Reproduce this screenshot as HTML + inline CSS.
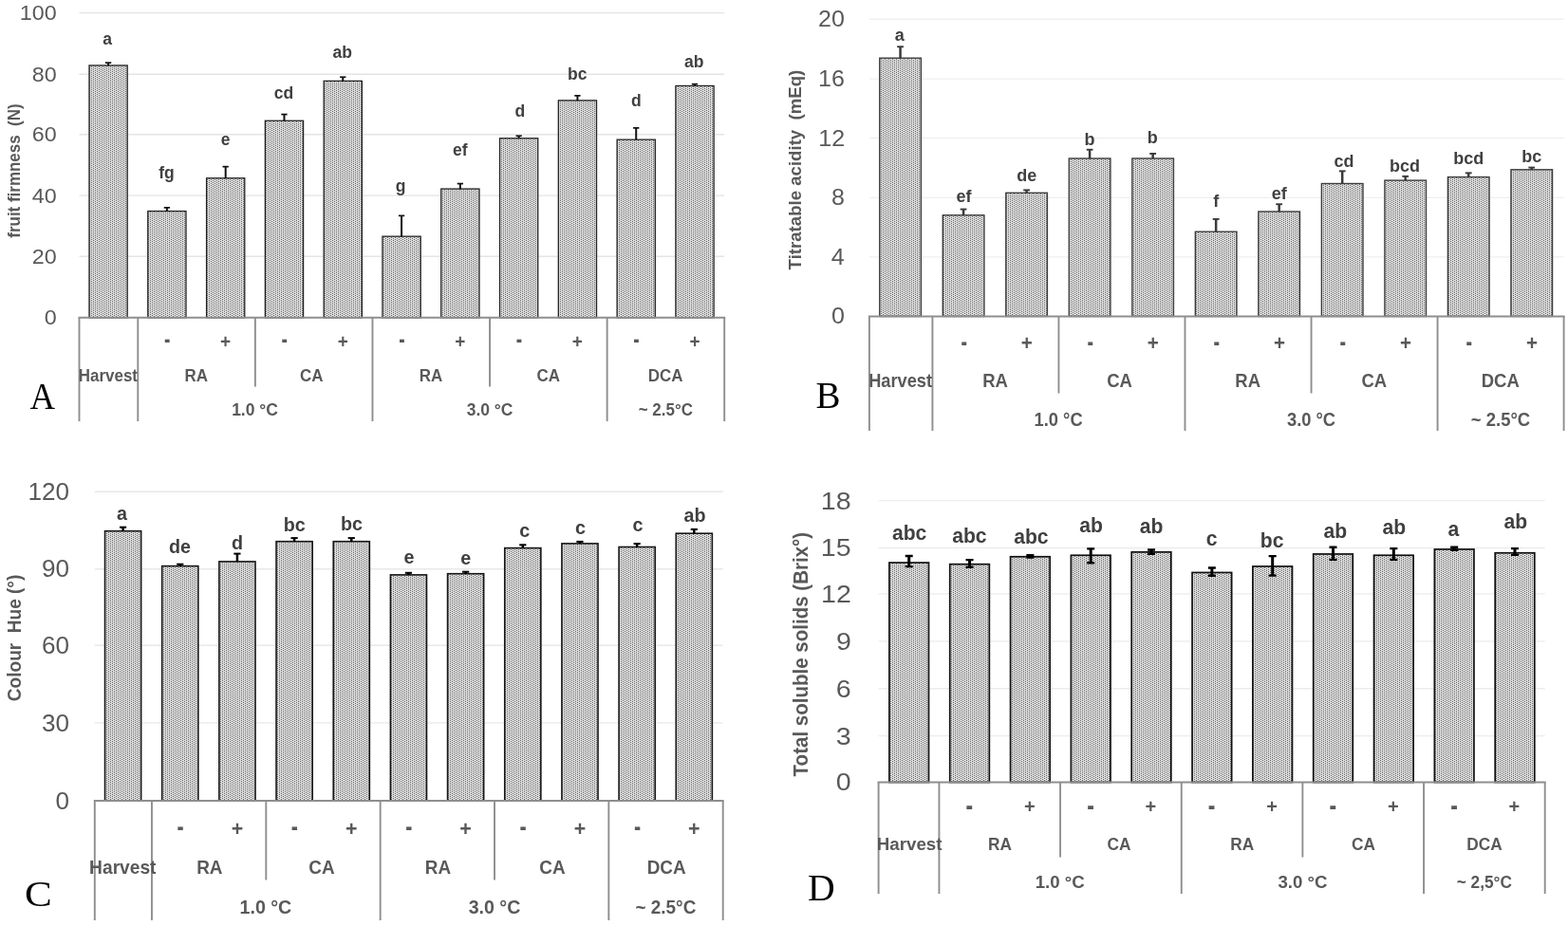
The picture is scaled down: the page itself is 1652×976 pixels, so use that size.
<!DOCTYPE html>
<html><head><meta charset="utf-8"><title>Figure</title>
<style>
html,body{margin:0;padding:0;background:#fff;overflow:hidden;width:1652px;height:976px;}
svg{display:block;}
text{white-space:pre;}
.nS{font-family:"Liberation Sans",sans-serif;font-weight:normal;}
.bS{font-family:"Liberation Sans",sans-serif;font-weight:bold;}
.nR{font-family:"Liberation Serif",serif;font-weight:normal;}
</style></head><body>
<svg width="1652" height="976" viewBox="0 0 1652 976">
<defs>
<pattern id="dotsA" patternUnits="userSpaceOnUse" width="4" height="2" patternTransform="scale(1,1)"><rect width="4" height="2" fill="#dedede"/><rect width="1" height="1" fill="#666"/><rect x="2" y="1" width="1" height="1" fill="#666"/></pattern>
<pattern id="dotsB" patternUnits="userSpaceOnUse" width="4" height="2" patternTransform="scale(1,1)"><rect width="4" height="2" fill="#dedede"/><rect width="1" height="1" fill="#666"/><rect x="2" y="1" width="1" height="1" fill="#666"/></pattern>
<pattern id="dotsC" patternUnits="userSpaceOnUse" width="4" height="2" patternTransform="scale(1,1)"><rect width="4" height="2" fill="#dedede"/><rect width="1" height="1" fill="#666"/><rect x="2" y="1" width="1" height="1" fill="#666"/></pattern>
<pattern id="dotsD" patternUnits="userSpaceOnUse" width="4" height="2" patternTransform="scale(1,1)"><rect width="4" height="2" fill="#dedede"/><rect width="1" height="1" fill="#666"/><rect x="2" y="1" width="1" height="1" fill="#666"/></pattern>
</defs>
<rect width="1652" height="976" fill="#fff"/>
<g id="pA">
<line x1="83.5" x2="763.2" y1="270.20" y2="270.20" stroke="#e4e4e4" stroke-width="1.4"/>
<line x1="83.5" x2="763.2" y1="206.10" y2="206.10" stroke="#e4e4e4" stroke-width="1.4"/>
<line x1="83.5" x2="763.2" y1="141.70" y2="141.70" stroke="#e4e4e4" stroke-width="1.4"/>
<line x1="83.5" x2="763.2" y1="78.20" y2="78.20" stroke="#e4e4e4" stroke-width="1.4"/>
<line x1="83.5" x2="763.2" y1="13.60" y2="13.60" stroke="#e4e4e4" stroke-width="1.4"/>
<text class="nS" transform="translate(46.67,342.39) scale(1.0600,1)" font-size="22" fill="#595959">0</text>
<text class="nS" transform="translate(33.70,277.79) scale(1.0600,1)" font-size="22" fill="#595959">20</text>
<text class="nS" transform="translate(33.70,213.69) scale(1.0600,1)" font-size="22" fill="#595959">40</text>
<text class="nS" transform="translate(33.70,149.29) scale(1.0600,1)" font-size="22" fill="#595959">60</text>
<text class="nS" transform="translate(33.70,85.79) scale(1.0600,1)" font-size="22" fill="#595959">80</text>
<text class="nS" transform="translate(20.73,21.19) scale(1.0600,1)" font-size="22" fill="#595959">100</text>
<rect x="94.00" y="68.95" width="40.20" height="265.85" fill="url(#dotsA)" stroke="#222" stroke-width="1.3"/>
<path d="M114.10,66.15V69.30" stroke="#111" stroke-width="2.0" fill="none"/>
<path d="M110.95,66.15H117.25" stroke="#111" stroke-width="1.7" fill="none"/>
<rect x="155.79" y="222.55" width="40.20" height="112.25" fill="url(#dotsA)" stroke="#222" stroke-width="1.3"/>
<path d="M175.89,218.85V222.90" stroke="#111" stroke-width="2.0" fill="none"/>
<path d="M172.74,218.85H179.04" stroke="#111" stroke-width="1.7" fill="none"/>
<rect x="217.58" y="187.75" width="40.20" height="147.05" fill="url(#dotsA)" stroke="#222" stroke-width="1.3"/>
<path d="M237.68,175.65V188.10" stroke="#111" stroke-width="2.0" fill="none"/>
<path d="M234.53,175.65H240.83" stroke="#111" stroke-width="1.7" fill="none"/>
<rect x="279.37" y="127.25" width="40.20" height="207.55" fill="url(#dotsA)" stroke="#222" stroke-width="1.3"/>
<path d="M299.47,120.55V127.60" stroke="#111" stroke-width="2.0" fill="none"/>
<path d="M296.32,120.55H302.62" stroke="#111" stroke-width="1.7" fill="none"/>
<rect x="341.16" y="85.35" width="40.20" height="249.45" fill="url(#dotsA)" stroke="#222" stroke-width="1.3"/>
<path d="M361.26,81.25V85.70" stroke="#111" stroke-width="2.0" fill="none"/>
<path d="M358.11,81.25H364.41" stroke="#111" stroke-width="1.7" fill="none"/>
<rect x="402.95" y="249.15" width="40.20" height="85.65" fill="url(#dotsA)" stroke="#222" stroke-width="1.3"/>
<path d="M423.05,227.35V249.50" stroke="#111" stroke-width="2.0" fill="none"/>
<path d="M419.90,227.35H426.20" stroke="#111" stroke-width="1.7" fill="none"/>
<rect x="464.74" y="199.05" width="40.20" height="135.75" fill="url(#dotsA)" stroke="#222" stroke-width="1.3"/>
<path d="M484.84,193.55V199.40" stroke="#111" stroke-width="2.0" fill="none"/>
<path d="M481.69,193.55H487.99" stroke="#111" stroke-width="1.7" fill="none"/>
<rect x="526.53" y="145.75" width="40.20" height="189.05" fill="url(#dotsA)" stroke="#222" stroke-width="1.3"/>
<path d="M546.63,143.25V146.10" stroke="#111" stroke-width="2.0" fill="none"/>
<path d="M543.48,143.25H549.78" stroke="#111" stroke-width="1.7" fill="none"/>
<rect x="588.32" y="105.85" width="40.20" height="228.95" fill="url(#dotsA)" stroke="#222" stroke-width="1.3"/>
<path d="M608.42,100.85V106.20" stroke="#111" stroke-width="2.0" fill="none"/>
<path d="M605.27,100.85H611.57" stroke="#111" stroke-width="1.7" fill="none"/>
<rect x="650.11" y="147.15" width="40.20" height="187.65" fill="url(#dotsA)" stroke="#222" stroke-width="1.3"/>
<path d="M670.21,134.85V147.50" stroke="#111" stroke-width="2.0" fill="none"/>
<path d="M667.06,134.85H673.36" stroke="#111" stroke-width="1.7" fill="none"/>
<rect x="711.90" y="90.45" width="40.20" height="244.35" fill="url(#dotsA)" stroke="#222" stroke-width="1.3"/>
<path d="M732.00,88.65V90.80" stroke="#111" stroke-width="2.0" fill="none"/>
<path d="M728.85,88.65H735.15" stroke="#111" stroke-width="1.7" fill="none"/>
<text class="bS" transform="translate(108.24,46.90) scale(1.0000,1)" font-size="17.5" fill="#404040">a</text>
<text class="bS" transform="translate(167.19,187.80) scale(1.0000,1)" font-size="17.5" fill="#404040">fg</text>
<text class="bS" transform="translate(232.80,152.90) scale(1.0000,1)" font-size="17.5" fill="#404040">e</text>
<text class="bS" transform="translate(288.76,104.10) scale(1.0000,1)" font-size="17.5" fill="#404040">cd</text>
<text class="bS" transform="translate(350.47,61.10) scale(1.0000,1)" font-size="17.5" fill="#404040">ab</text>
<text class="bS" transform="translate(416.64,202.20) scale(1.0000,1)" font-size="17.5" fill="#404040">g</text>
<text class="bS" transform="translate(476.90,164.30) scale(1.0000,1)" font-size="17.5" fill="#404040">ef</text>
<text class="bS" transform="translate(542.54,122.60) scale(1.0000,1)" font-size="17.5" fill="#404040">d</text>
<text class="bS" transform="translate(598.09,83.80) scale(1.0000,1)" font-size="17.5" fill="#404040">bc</text>
<text class="bS" transform="translate(664.94,112.00) scale(1.0000,1)" font-size="17.5" fill="#404040">d</text>
<text class="bS" transform="translate(720.97,70.70) scale(1.0000,1)" font-size="17.5" fill="#404040">ab</text>
<line x1="82.5" x2="764.2" y1="334.80" y2="334.80" stroke="#8e8e8e" stroke-width="2"/>
<line x1="83.50" x2="83.50" y1="334.80" y2="444.00" stroke="#8e8e8e" stroke-width="1.9"/>
<line x1="145.29" x2="145.29" y1="334.80" y2="444.00" stroke="#8e8e8e" stroke-width="1.9"/>
<line x1="392.45" x2="392.45" y1="334.80" y2="444.00" stroke="#8e8e8e" stroke-width="1.9"/>
<line x1="639.62" x2="639.62" y1="334.80" y2="444.00" stroke="#8e8e8e" stroke-width="1.9"/>
<line x1="763.20" x2="763.20" y1="334.80" y2="444.00" stroke="#8e8e8e" stroke-width="1.9"/>
<line x1="268.87" x2="268.87" y1="334.80" y2="407.60" stroke="#8e8e8e" stroke-width="1.9"/>
<line x1="516.04" x2="516.04" y1="334.80" y2="407.60" stroke="#8e8e8e" stroke-width="1.9"/>
<text class="bS" transform="translate(173.01,367.37) scale(1.1005,1.6190)" font-size="17.5" fill="#595959">-</text>
<text class="bS" transform="translate(232.07,367.02) scale(1.0868,1.1541)" font-size="17.5" fill="#595959">+</text>
<text class="bS" transform="translate(296.59,367.37) scale(1.1005,1.6190)" font-size="17.5" fill="#595959">-</text>
<text class="bS" transform="translate(355.65,367.02) scale(1.0868,1.1541)" font-size="17.5" fill="#595959">+</text>
<text class="bS" transform="translate(420.17,367.37) scale(1.1005,1.6190)" font-size="17.5" fill="#595959">-</text>
<text class="bS" transform="translate(479.23,367.02) scale(1.0868,1.1541)" font-size="17.5" fill="#595959">+</text>
<text class="bS" transform="translate(543.75,367.37) scale(1.1005,1.6190)" font-size="17.5" fill="#595959">-</text>
<text class="bS" transform="translate(602.81,367.02) scale(1.0868,1.1541)" font-size="17.5" fill="#595959">+</text>
<text class="bS" transform="translate(667.34,367.37) scale(1.1005,1.6190)" font-size="17.5" fill="#595959">-</text>
<text class="bS" transform="translate(726.39,367.02) scale(1.0868,1.1541)" font-size="17.5" fill="#595959">+</text>
<text class="bS" transform="translate(82.77,402.10) scale(0.9700,1)" font-size="17.5" fill="#595959">Harvest</text>
<text class="bS" transform="translate(194.50,402.10) scale(0.9700,1)" font-size="17.5" fill="#595959">RA</text>
<text class="bS" transform="translate(315.95,402.10) scale(0.9700,1)" font-size="17.5" fill="#595959">CA</text>
<text class="bS" transform="translate(441.67,402.10) scale(0.9700,1)" font-size="17.5" fill="#595959">RA</text>
<text class="bS" transform="translate(565.42,402.10) scale(0.9700,1)" font-size="17.5" fill="#595959">CA</text>
<text class="bS" transform="translate(682.70,402.10) scale(0.9700,1)" font-size="17.5" fill="#595959">DCA</text>
<text class="bS" transform="translate(244.15,437.80) scale(0.9991,1)" font-size="17.5" fill="#595959">1.0 °C</text>
<text class="bS" transform="translate(491.66,437.80) scale(0.9991,1)" font-size="17.5" fill="#595959">3.0 °C</text>
<text class="bS" transform="translate(672.71,437.80) scale(0.9700,1)" font-size="17.5" fill="#595959">~ 2.5°C</text>
<text class="bS" transform="translate(21.30,250.67) rotate(-90) scale(0.8917,1)" font-size="19" fill="#595959">fruit firmness  (N)</text>
<text class="nR" transform="translate(31.50,430.70) scale(0.9099,1)" font-size="40.45" fill="#000">A</text>
</g>
<g id="pB">
<line x1="915.9" x2="1647.6" y1="270.85" y2="270.85" stroke="#efefef" stroke-width="1.4"/>
<line x1="915.9" x2="1647.6" y1="208.40" y2="208.40" stroke="#efefef" stroke-width="1.4"/>
<line x1="915.9" x2="1647.6" y1="145.45" y2="145.45" stroke="#efefef" stroke-width="1.4"/>
<line x1="915.9" x2="1647.6" y1="83.10" y2="83.10" stroke="#efefef" stroke-width="1.4"/>
<line x1="915.9" x2="1647.6" y1="20.20" y2="20.20" stroke="#efefef" stroke-width="1.4"/>
<text class="nS" transform="translate(875.96,341.33) scale(1.0900,1)" font-size="23" fill="#595959">0</text>
<text class="nS" transform="translate(875.71,278.90) scale(1.0900,1)" font-size="23" fill="#595959">4</text>
<text class="nS" transform="translate(875.96,216.34) scale(1.0900,1)" font-size="23" fill="#595959">8</text>
<text class="nS" transform="translate(862.27,153.50) scale(1.0900,1)" font-size="23" fill="#595959">12</text>
<text class="nS" transform="translate(862.02,91.03) scale(1.0900,1)" font-size="23" fill="#595959">16</text>
<text class="nS" transform="translate(862.02,28.13) scale(1.0900,1)" font-size="23" fill="#595959">20</text>
<rect x="926.76" y="61.20" width="43.60" height="272.20" fill="url(#dotsB)" stroke="#3c3c3c" stroke-width="1.4"/>
<path d="M948.56,49.25V61.50" stroke="#3a3a3a" stroke-width="2.5" fill="none"/>
<path d="M945.16,49.25H951.96" stroke="#3a3a3a" stroke-width="1.9" fill="none"/>
<rect x="993.28" y="226.80" width="43.60" height="106.60" fill="url(#dotsB)" stroke="#3c3c3c" stroke-width="1.4"/>
<path d="M1015.08,220.55V227.10" stroke="#3a3a3a" stroke-width="2.5" fill="none"/>
<path d="M1011.68,220.55H1018.48" stroke="#3a3a3a" stroke-width="1.9" fill="none"/>
<rect x="1059.80" y="203.30" width="43.60" height="130.10" fill="url(#dotsB)" stroke="#3c3c3c" stroke-width="1.4"/>
<path d="M1081.60,200.35V203.60" stroke="#3a3a3a" stroke-width="2.5" fill="none"/>
<path d="M1078.20,200.35H1085.00" stroke="#3a3a3a" stroke-width="1.9" fill="none"/>
<rect x="1126.31" y="167.00" width="43.60" height="166.40" fill="url(#dotsB)" stroke="#3c3c3c" stroke-width="1.4"/>
<path d="M1148.11,157.75V167.30" stroke="#3a3a3a" stroke-width="2.5" fill="none"/>
<path d="M1144.71,157.75H1151.51" stroke="#3a3a3a" stroke-width="1.9" fill="none"/>
<rect x="1192.83" y="167.00" width="43.60" height="166.40" fill="url(#dotsB)" stroke="#3c3c3c" stroke-width="1.4"/>
<path d="M1214.63,161.95V167.30" stroke="#3a3a3a" stroke-width="2.5" fill="none"/>
<path d="M1211.23,161.95H1218.03" stroke="#3a3a3a" stroke-width="1.9" fill="none"/>
<rect x="1259.35" y="244.20" width="43.60" height="89.20" fill="url(#dotsB)" stroke="#3c3c3c" stroke-width="1.4"/>
<path d="M1281.15,230.95V244.50" stroke="#3a3a3a" stroke-width="2.5" fill="none"/>
<path d="M1277.75,230.95H1284.55" stroke="#3a3a3a" stroke-width="1.9" fill="none"/>
<rect x="1325.87" y="223.00" width="43.60" height="110.40" fill="url(#dotsB)" stroke="#3c3c3c" stroke-width="1.4"/>
<path d="M1347.67,215.25V223.30" stroke="#3a3a3a" stroke-width="2.5" fill="none"/>
<path d="M1344.27,215.25H1351.07" stroke="#3a3a3a" stroke-width="1.9" fill="none"/>
<rect x="1392.39" y="193.50" width="43.60" height="139.90" fill="url(#dotsB)" stroke="#3c3c3c" stroke-width="1.4"/>
<path d="M1414.19,180.35V193.80" stroke="#3a3a3a" stroke-width="2.5" fill="none"/>
<path d="M1410.79,180.35H1417.59" stroke="#3a3a3a" stroke-width="1.9" fill="none"/>
<rect x="1458.90" y="190.10" width="43.60" height="143.30" fill="url(#dotsB)" stroke="#3c3c3c" stroke-width="1.4"/>
<path d="M1480.70,185.85V190.40" stroke="#3a3a3a" stroke-width="2.5" fill="none"/>
<path d="M1477.30,185.85H1484.10" stroke="#3a3a3a" stroke-width="1.9" fill="none"/>
<rect x="1525.42" y="186.60" width="43.60" height="146.80" fill="url(#dotsB)" stroke="#3c3c3c" stroke-width="1.4"/>
<path d="M1547.22,182.35V186.90" stroke="#3a3a3a" stroke-width="2.5" fill="none"/>
<path d="M1543.82,182.35H1550.62" stroke="#3a3a3a" stroke-width="1.9" fill="none"/>
<rect x="1591.94" y="178.80" width="43.60" height="154.60" fill="url(#dotsB)" stroke="#3c3c3c" stroke-width="1.4"/>
<path d="M1613.74,176.55V179.10" stroke="#3a3a3a" stroke-width="2.5" fill="none"/>
<path d="M1610.34,176.55H1617.14" stroke="#3a3a3a" stroke-width="1.9" fill="none"/>
<text class="bS" transform="translate(942.69,43.00) scale(1.0000,1)" font-size="18" fill="#404040">a</text>
<text class="bS" transform="translate(1007.46,212.80) scale(1.0000,1)" font-size="18" fill="#404040">ef</text>
<text class="bS" transform="translate(1071.37,191.40) scale(1.0000,1)" font-size="18" fill="#404040">de</text>
<text class="bS" transform="translate(1142.43,152.70) scale(1.0000,1)" font-size="18" fill="#404040">b</text>
<text class="bS" transform="translate(1208.63,151.10) scale(1.0000,1)" font-size="18" fill="#404040">b</text>
<text class="bS" transform="translate(1278.25,217.80) scale(1.0000,1)" font-size="18" fill="#404040">f</text>
<text class="bS" transform="translate(1339.66,209.80) scale(1.0000,1)" font-size="18" fill="#404040">ef</text>
<text class="bS" transform="translate(1405.57,176.10) scale(1.0000,1)" font-size="18" fill="#404040">cd</text>
<text class="bS" transform="translate(1464.11,180.60) scale(1.0000,1)" font-size="18" fill="#404040">bcd</text>
<text class="bS" transform="translate(1531.21,172.90) scale(1.0000,1)" font-size="18" fill="#404040">bcd</text>
<text class="bS" transform="translate(1603.19,171.10) scale(1.0000,1)" font-size="18" fill="#404040">bc</text>
<line x1="914.9" x2="1648.6" y1="333.40" y2="333.40" stroke="#8e8e8e" stroke-width="2"/>
<line x1="915.90" x2="915.90" y1="333.40" y2="454.00" stroke="#8e8e8e" stroke-width="1.9"/>
<line x1="982.42" x2="982.42" y1="333.40" y2="454.00" stroke="#8e8e8e" stroke-width="1.9"/>
<line x1="1248.49" x2="1248.49" y1="333.40" y2="454.00" stroke="#8e8e8e" stroke-width="1.9"/>
<line x1="1514.56" x2="1514.56" y1="333.40" y2="454.00" stroke="#8e8e8e" stroke-width="1.9"/>
<line x1="1647.60" x2="1647.60" y1="333.40" y2="454.00" stroke="#8e8e8e" stroke-width="1.9"/>
<line x1="1115.45" x2="1115.45" y1="333.40" y2="414.50" stroke="#8e8e8e" stroke-width="1.9"/>
<line x1="1381.53" x2="1381.53" y1="333.40" y2="414.50" stroke="#8e8e8e" stroke-width="1.9"/>
<text class="bS" transform="translate(1012.44,369.60) scale(1.0066,1.5385)" font-size="19.5" fill="#595959">-</text>
<text class="bS" transform="translate(1075.82,369.49) scale(1.0558,1.1463)" font-size="19.5" fill="#595959">+</text>
<text class="bS" transform="translate(1145.47,369.60) scale(1.0066,1.5385)" font-size="19.5" fill="#595959">-</text>
<text class="bS" transform="translate(1208.86,369.49) scale(1.0558,1.1463)" font-size="19.5" fill="#595959">+</text>
<text class="bS" transform="translate(1278.51,369.60) scale(1.0066,1.5385)" font-size="19.5" fill="#595959">-</text>
<text class="bS" transform="translate(1341.89,369.49) scale(1.0558,1.1463)" font-size="19.5" fill="#595959">+</text>
<text class="bS" transform="translate(1411.55,369.60) scale(1.0066,1.5385)" font-size="19.5" fill="#595959">-</text>
<text class="bS" transform="translate(1474.93,369.49) scale(1.0558,1.1463)" font-size="19.5" fill="#595959">+</text>
<text class="bS" transform="translate(1544.58,369.60) scale(1.0066,1.5385)" font-size="19.5" fill="#595959">-</text>
<text class="bS" transform="translate(1607.97,369.49) scale(1.0558,1.1463)" font-size="19.5" fill="#595959">+</text>
<text class="bS" transform="translate(915.19,408.40) scale(0.9350,1)" font-size="19.5" fill="#595959">Harvest</text>
<text class="bS" transform="translate(1035.21,408.40) scale(0.9500,1)" font-size="19.5" fill="#595959">RA</text>
<text class="bS" transform="translate(1166.13,408.40) scale(0.9500,1)" font-size="19.5" fill="#595959">CA</text>
<text class="bS" transform="translate(1301.28,408.40) scale(0.9500,1)" font-size="19.5" fill="#595959">RA</text>
<text class="bS" transform="translate(1434.50,408.40) scale(0.9500,1)" font-size="19.5" fill="#595959">CA</text>
<text class="bS" transform="translate(1560.66,408.40) scale(0.9500,1)" font-size="19.5" fill="#595959">DCA</text>
<text class="bS" transform="translate(1089.52,449.10) scale(0.9405,1)" font-size="19.5" fill="#595959">1.0 °C</text>
<text class="bS" transform="translate(1355.96,449.10) scale(0.9405,1)" font-size="19.5" fill="#595959">3.0 °C</text>
<text class="bS" transform="translate(1549.76,449.10) scale(0.9500,1)" font-size="19.5" fill="#595959">~ 2.5°C</text>
<text class="bS" transform="translate(844.10,284.39) rotate(-90) scale(0.9807,1)" font-size="19" fill="#595959">Titratable acidity  (mEq)</text>
<text class="nR" transform="translate(859.42,429.81) scale(0.9901,1)" font-size="39.39" fill="#000">B</text>
</g>
<g id="pC">
<line x1="99.8" x2="761.7" y1="761.90" y2="761.90" stroke="#e8e8e8" stroke-width="1.4"/>
<line x1="99.8" x2="761.7" y1="680.20" y2="680.20" stroke="#e8e8e8" stroke-width="1.4"/>
<line x1="99.8" x2="761.7" y1="599.70" y2="599.70" stroke="#e8e8e8" stroke-width="1.4"/>
<line x1="99.8" x2="761.7" y1="518.20" y2="518.20" stroke="#e8e8e8" stroke-width="1.4"/>
<text class="nS" transform="translate(58.62,852.62) scale(1.0450,1)" font-size="25" fill="#595959">0</text>
<text class="nS" transform="translate(44.09,770.52) scale(1.0450,1)" font-size="25" fill="#595959">30</text>
<text class="nS" transform="translate(44.09,688.83) scale(1.0450,1)" font-size="25" fill="#595959">60</text>
<text class="nS" transform="translate(44.09,608.33) scale(1.0450,1)" font-size="25" fill="#595959">90</text>
<text class="nS" transform="translate(29.56,526.83) scale(1.0450,1)" font-size="25" fill="#595959">120</text>
<rect x="110.54" y="559.70" width="38.10" height="284.30" fill="url(#dotsC)" stroke="#161616" stroke-width="1.6"/>
<path d="M129.59,555.70V559.90" stroke="#000" stroke-width="2.5" fill="none"/>
<path d="M125.99,555.70H133.19" stroke="#000" stroke-width="2.0" fill="none"/>
<rect x="170.71" y="596.60" width="38.10" height="247.40" fill="url(#dotsC)" stroke="#161616" stroke-width="1.6"/>
<path d="M189.76,594.70V596.80" stroke="#000" stroke-width="2.5" fill="none"/>
<path d="M186.16,594.70H193.36" stroke="#000" stroke-width="2.0" fill="none"/>
<rect x="230.88" y="591.90" width="38.10" height="252.10" fill="url(#dotsC)" stroke="#161616" stroke-width="1.6"/>
<path d="M249.93,583.60V592.10" stroke="#000" stroke-width="2.5" fill="none"/>
<path d="M246.33,583.60H253.53" stroke="#000" stroke-width="2.0" fill="none"/>
<rect x="291.05" y="570.70" width="38.10" height="273.30" fill="url(#dotsC)" stroke="#161616" stroke-width="1.6"/>
<path d="M310.10,567.10V570.90" stroke="#000" stroke-width="2.5" fill="none"/>
<path d="M306.50,567.10H313.70" stroke="#000" stroke-width="2.0" fill="none"/>
<rect x="351.23" y="570.70" width="38.10" height="273.30" fill="url(#dotsC)" stroke="#161616" stroke-width="1.6"/>
<path d="M370.28,567.10V570.90" stroke="#000" stroke-width="2.5" fill="none"/>
<path d="M366.68,567.10H373.88" stroke="#000" stroke-width="2.0" fill="none"/>
<rect x="411.40" y="605.90" width="38.10" height="238.10" fill="url(#dotsC)" stroke="#161616" stroke-width="1.6"/>
<path d="M430.45,603.80V606.10" stroke="#000" stroke-width="2.5" fill="none"/>
<path d="M426.85,603.80H434.05" stroke="#000" stroke-width="2.0" fill="none"/>
<rect x="471.57" y="604.70" width="38.10" height="239.30" fill="url(#dotsC)" stroke="#161616" stroke-width="1.6"/>
<path d="M490.62,602.70V604.90" stroke="#000" stroke-width="2.5" fill="none"/>
<path d="M487.02,602.70H494.22" stroke="#000" stroke-width="2.0" fill="none"/>
<rect x="531.75" y="577.60" width="38.10" height="266.40" fill="url(#dotsC)" stroke="#161616" stroke-width="1.6"/>
<path d="M550.80,574.30V577.80" stroke="#000" stroke-width="2.5" fill="none"/>
<path d="M547.20,574.30H554.40" stroke="#000" stroke-width="2.0" fill="none"/>
<rect x="591.92" y="572.90" width="38.10" height="271.10" fill="url(#dotsC)" stroke="#161616" stroke-width="1.6"/>
<path d="M610.97,570.90V573.10" stroke="#000" stroke-width="2.5" fill="none"/>
<path d="M607.37,570.90H614.57" stroke="#000" stroke-width="2.0" fill="none"/>
<rect x="652.09" y="576.50" width="38.10" height="267.50" fill="url(#dotsC)" stroke="#161616" stroke-width="1.6"/>
<path d="M671.14,573.10V576.70" stroke="#000" stroke-width="2.5" fill="none"/>
<path d="M667.54,573.10H674.74" stroke="#000" stroke-width="2.0" fill="none"/>
<rect x="712.26" y="562.20" width="38.10" height="281.80" fill="url(#dotsC)" stroke="#161616" stroke-width="1.6"/>
<path d="M731.31,557.90V562.40" stroke="#000" stroke-width="2.5" fill="none"/>
<path d="M727.71,557.90H734.91" stroke="#000" stroke-width="2.0" fill="none"/>
<text class="bS" transform="translate(123.09,548.00) scale(1.0000,1)" font-size="19.7" fill="#404040">a</text>
<text class="bS" transform="translate(178.07,582.50) scale(1.0000,1)" font-size="19.7" fill="#404040">de</text>
<text class="bS" transform="translate(244.09,578.90) scale(1.0000,1)" font-size="19.7" fill="#404040">d</text>
<text class="bS" transform="translate(298.67,559.80) scale(1.0000,1)" font-size="19.7" fill="#404040">bc</text>
<text class="bS" transform="translate(358.97,559.20) scale(1.0000,1)" font-size="19.7" fill="#404040">bc</text>
<text class="bS" transform="translate(425.38,594.00) scale(1.0000,1)" font-size="19.7" fill="#404040">e</text>
<text class="bS" transform="translate(485.18,595.00) scale(1.0000,1)" font-size="19.7" fill="#404040">e</text>
<text class="bS" transform="translate(547.18,565.90) scale(1.0000,1)" font-size="19.7" fill="#404040">c</text>
<text class="bS" transform="translate(606.08,562.60) scale(1.0000,1)" font-size="19.7" fill="#404040">c</text>
<text class="bS" transform="translate(666.58,560.30) scale(1.0000,1)" font-size="19.7" fill="#404040">c</text>
<text class="bS" transform="translate(720.61,550.20) scale(1.0000,1)" font-size="19.7" fill="#404040">ab</text>
<line x1="98.8" x2="762.7" y1="844.00" y2="844.00" stroke="#8e8e8e" stroke-width="2"/>
<line x1="99.80" x2="99.80" y1="844.00" y2="970.00" stroke="#8e8e8e" stroke-width="1.9"/>
<line x1="159.97" x2="159.97" y1="844.00" y2="970.00" stroke="#8e8e8e" stroke-width="1.9"/>
<line x1="400.66" x2="400.66" y1="844.00" y2="970.00" stroke="#8e8e8e" stroke-width="1.9"/>
<line x1="641.35" x2="641.35" y1="844.00" y2="970.00" stroke="#8e8e8e" stroke-width="1.9"/>
<line x1="761.70" x2="761.70" y1="844.00" y2="970.00" stroke="#8e8e8e" stroke-width="1.9"/>
<line x1="280.32" x2="280.32" y1="844.00" y2="927.50" stroke="#8e8e8e" stroke-width="1.9"/>
<line x1="521.01" x2="521.01" y1="844.00" y2="927.50" stroke="#8e8e8e" stroke-width="1.9"/>
<text class="bS" transform="translate(186.51,881.20) scale(1.0904,1.5228)" font-size="19.7" fill="#595959">-</text>
<text class="bS" transform="translate(243.63,881.34) scale(1.0849,1.1645)" font-size="19.7" fill="#595959">+</text>
<text class="bS" transform="translate(306.86,881.20) scale(1.0904,1.5228)" font-size="19.7" fill="#595959">-</text>
<text class="bS" transform="translate(363.97,881.34) scale(1.0849,1.1645)" font-size="19.7" fill="#595959">+</text>
<text class="bS" transform="translate(427.21,881.20) scale(1.0904,1.5228)" font-size="19.7" fill="#595959">-</text>
<text class="bS" transform="translate(484.32,881.34) scale(1.0849,1.1645)" font-size="19.7" fill="#595959">+</text>
<text class="bS" transform="translate(547.55,881.20) scale(1.0904,1.5228)" font-size="19.7" fill="#595959">-</text>
<text class="bS" transform="translate(604.66,881.34) scale(1.0849,1.1645)" font-size="19.7" fill="#595959">+</text>
<text class="bS" transform="translate(667.90,881.20) scale(1.0904,1.5228)" font-size="19.7" fill="#595959">-</text>
<text class="bS" transform="translate(725.01,881.34) scale(1.0849,1.1645)" font-size="19.7" fill="#595959">+</text>
<text class="bS" transform="translate(94.10,920.60) scale(0.9750,1)" font-size="19.7" fill="#595959">Harvest</text>
<text class="bS" transform="translate(207.13,920.60) scale(0.9600,1)" font-size="19.7" fill="#595959">RA</text>
<text class="bS" transform="translate(325.36,920.60) scale(0.9600,1)" font-size="19.7" fill="#595959">CA</text>
<text class="bS" transform="translate(447.82,920.60) scale(0.9600,1)" font-size="19.7" fill="#595959">RA</text>
<text class="bS" transform="translate(568.36,920.60) scale(0.9600,1)" font-size="19.7" fill="#595959">CA</text>
<text class="bS" transform="translate(681.68,920.60) scale(0.9600,1)" font-size="19.7" fill="#595959">DCA</text>
<text class="bS" transform="translate(252.59,963.10) scale(0.9955,1)" font-size="19.7" fill="#595959">1.0 °C</text>
<text class="bS" transform="translate(493.67,963.10) scale(0.9955,1)" font-size="19.7" fill="#595959">3.0 °C</text>
<text class="bS" transform="translate(669.55,963.10) scale(0.9600,1)" font-size="19.7" fill="#595959">~ 2.5°C</text>
<text class="bS" transform="translate(22.00,739.16) rotate(-90) scale(0.9528,1)" font-size="20" fill="#595959">Colour  Hue (°)</text>
<text class="nR" transform="translate(26.08,954.93) scale(1.1187,1)" font-size="38.53" fill="#000">C</text>
</g>
<g id="pD">
<line x1="925.6" x2="1627.7" y1="775.60" y2="775.60" stroke="#ececec" stroke-width="1.4"/>
<line x1="925.6" x2="1627.7" y1="725.80" y2="725.80" stroke="#ececec" stroke-width="1.4"/>
<line x1="925.6" x2="1627.7" y1="675.90" y2="675.90" stroke="#ececec" stroke-width="1.4"/>
<line x1="925.6" x2="1627.7" y1="625.90" y2="625.90" stroke="#ececec" stroke-width="1.4"/>
<line x1="925.6" x2="1627.7" y1="577.45" y2="577.45" stroke="#ececec" stroke-width="1.4"/>
<line x1="925.6" x2="1627.7" y1="527.60" y2="527.60" stroke="#ececec" stroke-width="1.4"/>
<text class="nS" transform="translate(880.73,833.47) scale(1.1000,1)" font-size="26" fill="#595959">0</text>
<text class="nS" transform="translate(880.73,784.57) scale(1.1000,1)" font-size="26" fill="#595959">3</text>
<text class="nS" transform="translate(880.73,734.77) scale(1.1000,1)" font-size="26" fill="#595959">6</text>
<text class="nS" transform="translate(881.01,684.87) scale(1.1000,1)" font-size="26" fill="#595959">9</text>
<text class="nS" transform="translate(865.11,635.00) scale(1.1000,1)" font-size="26" fill="#595959">12</text>
<text class="nS" transform="translate(864.82,586.29) scale(1.1000,1)" font-size="26" fill="#595959">15</text>
<text class="nS" transform="translate(864.82,536.57) scale(1.1000,1)" font-size="26" fill="#595959">18</text>
<rect x="936.91" y="593.05" width="41.60" height="231.45" fill="url(#dotsD)" stroke="#111" stroke-width="1.7"/>
<path d="M957.71,586.00V597.10" stroke="#000" stroke-width="3.0" fill="none"/>
<path d="M953.71,586.00H961.71M953.71,597.10H961.71" stroke="#000" stroke-width="2.4" fill="none"/>
<rect x="1000.74" y="594.65" width="41.60" height="229.85" fill="url(#dotsD)" stroke="#111" stroke-width="1.7"/>
<path d="M1021.54,590.10V597.80" stroke="#000" stroke-width="3.0" fill="none"/>
<path d="M1017.54,590.10H1025.54M1017.54,597.80H1025.54" stroke="#000" stroke-width="2.4" fill="none"/>
<rect x="1064.57" y="586.75" width="41.60" height="237.75" fill="url(#dotsD)" stroke="#111" stroke-width="1.7"/>
<path d="M1085.37,585.10V587.50" stroke="#000" stroke-width="3.0" fill="none"/>
<path d="M1081.37,585.10H1089.37M1081.37,587.50H1089.37" stroke="#000" stroke-width="2.4" fill="none"/>
<rect x="1128.40" y="585.25" width="41.60" height="239.25" fill="url(#dotsD)" stroke="#111" stroke-width="1.7"/>
<path d="M1149.20,578.40V593.30" stroke="#000" stroke-width="3.0" fill="none"/>
<path d="M1145.20,578.40H1153.20M1145.20,593.30H1153.20" stroke="#000" stroke-width="2.4" fill="none"/>
<rect x="1192.22" y="581.85" width="41.60" height="242.65" fill="url(#dotsD)" stroke="#111" stroke-width="1.7"/>
<path d="M1213.02,579.50V583.70" stroke="#000" stroke-width="3.0" fill="none"/>
<path d="M1209.02,579.50H1217.02M1209.02,583.70H1217.02" stroke="#000" stroke-width="2.4" fill="none"/>
<rect x="1256.05" y="603.45" width="41.60" height="221.05" fill="url(#dotsD)" stroke="#111" stroke-width="1.7"/>
<path d="M1276.85,598.50V606.80" stroke="#000" stroke-width="3.0" fill="none"/>
<path d="M1272.85,598.50H1280.85M1272.85,606.80H1280.85" stroke="#000" stroke-width="2.4" fill="none"/>
<rect x="1319.88" y="596.95" width="41.60" height="227.55" fill="url(#dotsD)" stroke="#111" stroke-width="1.7"/>
<path d="M1340.68,586.10V606.60" stroke="#000" stroke-width="3.0" fill="none"/>
<path d="M1336.68,586.10H1344.68M1336.68,606.60H1344.68" stroke="#000" stroke-width="2.4" fill="none"/>
<rect x="1383.70" y="583.95" width="41.60" height="240.55" fill="url(#dotsD)" stroke="#111" stroke-width="1.7"/>
<path d="M1404.50,576.80V589.90" stroke="#000" stroke-width="3.0" fill="none"/>
<path d="M1400.50,576.80H1408.50M1400.50,589.90H1408.50" stroke="#000" stroke-width="2.4" fill="none"/>
<rect x="1447.53" y="585.25" width="41.60" height="239.25" fill="url(#dotsD)" stroke="#111" stroke-width="1.7"/>
<path d="M1468.33,578.10V589.90" stroke="#000" stroke-width="3.0" fill="none"/>
<path d="M1464.33,578.10H1472.33M1464.33,589.90H1472.33" stroke="#000" stroke-width="2.4" fill="none"/>
<rect x="1511.36" y="578.95" width="41.60" height="245.55" fill="url(#dotsD)" stroke="#111" stroke-width="1.7"/>
<path d="M1532.16,576.80V579.90" stroke="#000" stroke-width="3.0" fill="none"/>
<path d="M1528.16,576.80H1536.16M1528.16,579.90H1536.16" stroke="#000" stroke-width="2.4" fill="none"/>
<rect x="1575.19" y="582.75" width="41.60" height="241.75" fill="url(#dotsD)" stroke="#111" stroke-width="1.7"/>
<path d="M1595.99,578.10V584.90" stroke="#000" stroke-width="3.0" fill="none"/>
<path d="M1591.99,578.10H1599.99M1591.99,584.90H1599.99" stroke="#000" stroke-width="2.4" fill="none"/>
<text class="bS" transform="translate(939.98,569.20) scale(0.9300,1)" font-size="22.7" fill="#404040">abc</text>
<text class="bS" transform="translate(1003.18,571.90) scale(0.9300,1)" font-size="22.7" fill="#404040">abc</text>
<text class="bS" transform="translate(1068.18,573.00) scale(0.9300,1)" font-size="22.7" fill="#404040">abc</text>
<text class="bS" transform="translate(1137.30,560.90) scale(0.9300,1)" font-size="22.7" fill="#404040">ab</text>
<text class="bS" transform="translate(1200.70,562.00) scale(0.9300,1)" font-size="22.7" fill="#404040">ab</text>
<text class="bS" transform="translate(1270.79,574.90) scale(0.9300,1)" font-size="22.7" fill="#404040">c</text>
<text class="bS" transform="translate(1327.82,577.40) scale(0.9300,1)" font-size="22.7" fill="#404040">bc</text>
<text class="bS" transform="translate(1394.50,566.90) scale(0.9300,1)" font-size="22.7" fill="#404040">ab</text>
<text class="bS" transform="translate(1456.60,563.20) scale(0.9300,1)" font-size="22.7" fill="#404040">ab</text>
<text class="bS" transform="translate(1525.57,564.90) scale(0.9300,1)" font-size="22.7" fill="#404040">a</text>
<text class="bS" transform="translate(1584.50,557.40) scale(0.9300,1)" font-size="22.7" fill="#404040">ab</text>
<line x1="924.6" x2="1628.7" y1="824.50" y2="824.50" stroke="#8e8e8e" stroke-width="2"/>
<line x1="925.60" x2="925.60" y1="824.50" y2="942.00" stroke="#8e8e8e" stroke-width="1.9"/>
<line x1="989.43" x2="989.43" y1="824.50" y2="942.00" stroke="#8e8e8e" stroke-width="1.9"/>
<line x1="1244.74" x2="1244.74" y1="824.50" y2="942.00" stroke="#8e8e8e" stroke-width="1.9"/>
<line x1="1500.05" x2="1500.05" y1="824.50" y2="942.00" stroke="#8e8e8e" stroke-width="1.9"/>
<line x1="1627.70" x2="1627.70" y1="824.50" y2="942.00" stroke="#8e8e8e" stroke-width="1.9"/>
<line x1="1117.08" x2="1117.08" y1="824.50" y2="903.50" stroke="#8e8e8e" stroke-width="1.9"/>
<line x1="1372.39" x2="1372.39" y1="824.50" y2="903.50" stroke="#8e8e8e" stroke-width="1.9"/>
<text class="bS" transform="translate(1017.55,859.43) scale(1.2757,1.7593)" font-size="18" fill="#595959">-</text>
<text class="bS" transform="translate(1078.97,856.98) scale(1.1111,1.1002)" font-size="18" fill="#595959">+</text>
<text class="bS" transform="translate(1145.21,859.43) scale(1.2757,1.7593)" font-size="18" fill="#595959">-</text>
<text class="bS" transform="translate(1206.62,856.98) scale(1.1111,1.1002)" font-size="18" fill="#595959">+</text>
<text class="bS" transform="translate(1272.86,859.43) scale(1.2757,1.7593)" font-size="18" fill="#595959">-</text>
<text class="bS" transform="translate(1334.28,856.98) scale(1.1111,1.1002)" font-size="18" fill="#595959">+</text>
<text class="bS" transform="translate(1400.52,859.43) scale(1.2757,1.7593)" font-size="18" fill="#595959">-</text>
<text class="bS" transform="translate(1461.93,856.98) scale(1.1111,1.1002)" font-size="18" fill="#595959">+</text>
<text class="bS" transform="translate(1528.17,859.43) scale(1.2757,1.7593)" font-size="18" fill="#595959">-</text>
<text class="bS" transform="translate(1589.59,856.98) scale(1.1111,1.1002)" font-size="18" fill="#595959">+</text>
<text class="bS" transform="translate(923.84,896.10) scale(1.0400,1)" font-size="18" fill="#595959">Harvest</text>
<text class="bS" transform="translate(1040.95,896.10) scale(0.9600,1)" font-size="18" fill="#595959">RA</text>
<text class="bS" transform="translate(1166.48,896.10) scale(0.9600,1)" font-size="18" fill="#595959">CA</text>
<text class="bS" transform="translate(1296.26,896.10) scale(0.9600,1)" font-size="18" fill="#595959">RA</text>
<text class="bS" transform="translate(1424.09,896.10) scale(0.9600,1)" font-size="18" fill="#595959">CA</text>
<text class="bS" transform="translate(1545.33,896.10) scale(0.9600,1)" font-size="18" fill="#595959">DCA</text>
<text class="bS" transform="translate(1090.69,935.80) scale(1.0368,1)" font-size="18" fill="#595959">1.0 °C</text>
<text class="bS" transform="translate(1346.38,935.80) scale(1.0368,1)" font-size="18" fill="#595959">3.0 °C</text>
<text class="bS" transform="translate(1534.65,935.80) scale(0.9600,1)" font-size="18" fill="#595959">~ 2,5°C</text>
<text class="bS" transform="translate(851.40,818.41) rotate(-90) scale(0.9049,1)" font-size="22.7" fill="#595959">Total soluble solids (Brix°)</text>
<text class="nR" transform="translate(851.01,948.51) scale(1.0079,1)" font-size="39.39" fill="#000">D</text>
</g>
</svg>
</body></html>
